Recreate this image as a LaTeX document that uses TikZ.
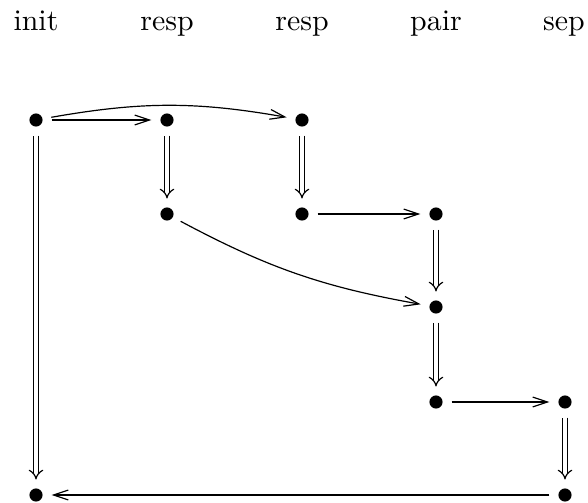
\documentclass[tikz,border=0pt]{standalone}
\usetikzlibrary{arrows.meta}
\begin{document}
\begin{tikzpicture}[x=0.335pt,y=-0.335pt,
  dot/.style={circle,inner sep=0pt,minimum size=10pt,
    path picture={\fill (path picture bounding box.center) circle (2.2pt);}},
  lab/.style={anchor=base,inner sep=0pt},
  sarr/.style={line width=0.4pt,-{Straight Barb[length=5pt,width=3.3pt]}},
  darr/.style={line width=0.4pt,double,double distance=1.3pt,-{Implies[scale=1.25]}}]
\useasboundingbox (0,0) rectangle (588,503);
% labels
\node[lab] (l1) at (36,30) {init};
\node[lab] (l2) at (167,30) {resp};
\node[lab] (l3) at (302,30) {resp};
\node[lab] (l4) at (436,30) {pair};
\node[lab] (l5) at (564,30) {sep};
% dots
\node[dot] (a1) at (36,120) {};
\node[dot] (a2) at (167,120) {};
\node[dot] (a3) at (302,120) {};
\node[dot] (b2) at (167,214) {};
\node[dot] (b3) at (302,214) {};
\node[dot] (b4) at (436,214) {};
\node[dot] (c4) at (436,307) {};
\node[dot] (d4) at (436,402) {};
\node[dot] (d5) at (565,402) {};
\node[dot] (e1) at (36,495) {};
\node[dot] (e5) at (565,495) {};
% connectors
\draw[sarr] (a1) -- (a2);
\draw[sarr] (a1) to[bend left=10] (a3);
\draw[darr] (a1) -- (e1);
\draw[darr] (a2) -- (b2);
\draw[darr] (a3) -- (b3);
\draw[sarr] (b3) -- (b4);
\draw[sarr] (b2) to[bend right=9] (c4);
\draw[darr] (b4) -- (c4);
\draw[darr] (c4) -- (d4);
\draw[sarr] (d4) -- (d5);
\draw[darr] (d5) -- (e5);
\draw[sarr] (e5) -- (e1);
\end{tikzpicture}
\end{document}
